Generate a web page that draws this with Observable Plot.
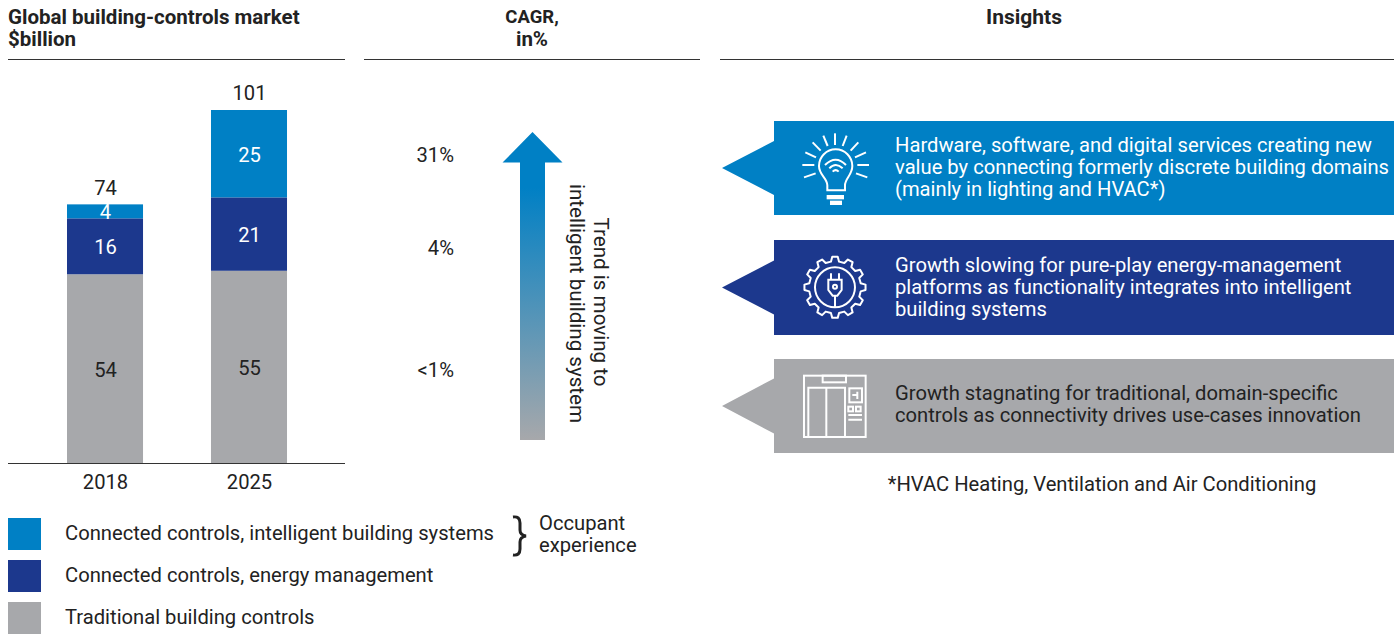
<!DOCTYPE html>
<html>
<head>
<meta charset="utf-8">
<style>
html,body{margin:0;padding:0;background:#fff}
svg{display:block}
</style>
<script src="https://cdn.jsdelivr.net/npm/d3@7"></script>
<script src="https://cdn.jsdelivr.net/npm/@observablehq/plot@0.6"></script>
</head>
<body>
<div id="chart"></div>
<script>
// ---- data ----
const years = ["2018", "2025"];
const series = ["Traditional building controls", "Connected controls, energy management", "Connected controls, intelligent building systems"];
const values2018 = [54, 16, 4];
const values2025 = [55, 21, 25];
const seriesColors = ["#a7a8ab", "#1c388d", "#0080c5"];
const labelColors = ["#222222", "#ffffff", "#ffffff"];
const cagrLabels = ["31%", "4%", "<1%"];
const legendOrder = [2, 1, 0];
const bracketNote = ["Occupant", "experience"];
const headings = [["Global building-controls market", "$billion"], ["CAGR,", "in%"], ["Insights"]];
const trendNote = ["Trend is moving to", "intelligent building system"];
const insights = [
  ["Hardware, software, and digital services creating new", "value by connecting formerly discrete building domains", "(mainly in lighting and HVAC*)"],
  ["Growth slowing for pure-play energy-management", "platforms as functionality integrates into intelligent", "building systems"],
  ["Growth stagnating for traditional, domain-specific", "controls as connectivity drives use-cases innovation"]
];
const footnote = "*HVAC Heating, Ventilation and Air Conditioning";

// ---- derived tables ----
const columns = [values2018, values2025];
const rows = years.flatMap((year, yi) => {
  let base = 0;
  return series.map((name, si) => {
    const value = columns[yi][si];
    const row = {year, series: name, si, value, mid: base + value / 2};
    base += value;
    return row;
  });
});
const totals = years.map((year, yi) => ({year, total: d3.sum(columns[yi])}));
const midOf = (yi, si) => rows.find(r => r.year === years[yi] && r.si === si).mid;
const cagrRows = [
  {label: cagrLabels[0], mid: midOf(1, 2)},
  {label: cagrLabels[1], mid: midOf(0, 1)},
  {label: cagrLabels[2], mid: midOf(0, 0)}
];

// ---- style ----
const FONT = "Roboto, sans-serif";
const SIZE = 20.2;
const INK = "#222222";
const LINE = "#333333";

function label(g, x, y, str, o = {}) {
  return g.append("text").attr("x", x).attr("y", y)
    .attr("text-anchor", o.anchor || "start")
    .attr("dominant-baseline", "central")
    .attr("fill", o.fill || INK)
    .attr("font-weight", o.weight || 400)
    .attr("font-size", o.size || SIZE)
    .attr("font-family", FONT)
    .text(str);
}

function bulbIcon(g) {
  const s = g.append("g").attr("transform", "translate(720,110) scale(0.3333)")
    .attr("fill", "none").attr("stroke", "#fff").attr("stroke-width", 6);
  const rays = [[345,70,345,105],[310,77,323,108],[380,77,368,108],[278,97,302,122],[415,97,392,122],
    [256,127,288,142],[438,127,405,142],[247,165,283,165],[447,165,412,165],[252,202,287,190],[442,202,408,190]];
  rays.forEach(r => s.append("line").attr("x1", r[0]).attr("y1", r[1]).attr("x2", r[2]).attr("y2", r[3]));
  s.append("path").attr("d", "M322 241 L322 226 C322 205 297 195 297 168 A50 50 0 1 1 397 168 C397 195 375 205 375 226 L375 241 Z");
  s.append("path").attr("d", "M315 165 Q347 133 378 165");
  s.append("path").attr("d", "M328 175 Q347 155 368 175");
  s.append("path").attr("d", "M338 185 Q347 176 356 185");
  s.append("rect").attr("x", 320).attr("y", 255).attr("width", 52).attr("height", 13).attr("fill", "#fff").attr("stroke", "none");
  s.append("rect").attr("x", 330).attr("y", 272).attr("width", 36).attr("height", 13).attr("fill", "#fff").attr("stroke", "none");
}

function gearIcon(g) {
  const s = g.append("g").attr("transform", "translate(720,235) scale(0.3333)")
    .attr("fill", "none").attr("stroke", "#fff").attr("stroke-width", 6);
  const cx = 345, cy = 157, teeth = 12, rOut = 92, rIn = 78;
  const pts = [];
  for (let i = 0; i < teeth; i++) {
    const a = (i / teeth) * 2 * Math.PI - Math.PI / 2;
    const w = (2 * Math.PI / teeth);
    [[-0.3, rIn], [-0.17, rOut], [0.17, rOut], [0.3, rIn]].forEach(([f, r]) =>
      pts.push([cx + r * Math.cos(a + f * w), cy + r * Math.sin(a + f * w)]));
  }
  s.append("path").attr("stroke-linejoin", "round")
    .attr("d", d3.line().curve(d3.curveLinearClosed)(pts));
  s.append("circle").attr("cx", cx).attr("cy", cy).attr("r", 60);
  s.append("path").attr("d", "M333 115 L333 134 M357 115 L357 134");
  s.append("path").attr("d", "M325 134 L365 134 L365 165 L352 182 L338 182 L325 165 Z");
  s.append("circle").attr("cx", 345).attr("cy", 155).attr("r", 6);
  s.append("path").attr("d", "M345 182 L345 216");
}

function liftIcon(g) {
  const s = g.append("g").attr("transform", "translate(720,355) scale(0.3333)")
    .attr("fill", "none").attr("stroke", "#fff").attr("stroke-width", 6);
  s.append("rect").attr("x", 252).attr("y", 62).attr("width", 185).attr("height", 184);
  s.append("rect").attr("x", 308).attr("y", 62).attr("width", 70).attr("height", 20);
  s.append("path").attr("d", "M265 246 L265 98 L375 98 L375 246 M319 98 L319 246");
  s.append("rect").attr("x", 388).attr("y", 100).attr("width", 38).attr("height", 42);
  s.append("path").attr("d", "M397 120 L412 120 M412 110 L412 132");
  s.append("rect").attr("x", 385).attr("y", 155).attr("width", 14).attr("height", 14);
  s.append("rect").attr("x", 408).attr("y", 155).attr("width", 14).attr("height", 14);
  s.append("path").attr("d", "M385 180 L426 180 M385 194 L426 194");
}

// ---- panels, legend, notes ----
function decorations() {
  const g = d3.create("svg:g");
  // header rules and baseline
  [[8, 345], [364, 700], [720, 1394]].forEach(([a, b]) =>
    g.append("line").attr("x1", a).attr("x2", b).attr("y1", 59.5).attr("y2", 59.5).attr("stroke", LINE).attr("stroke-width", 1.2));
  g.append("line").attr("x1", 8).attr("x2", 345).attr("y1", 463.5).attr("y2", 463.5).attr("stroke", LINE).attr("stroke-width", 1.2);
  // headings
  label(g, 8, 17, headings[0][0], {weight: 700, size: 20.5});
  label(g, 8, 39, headings[0][1], {weight: 700, size: 20.5});
  label(g, 532, 17, headings[1][0], {weight: 700, size: 18.5, anchor: "middle"});
  label(g, 532, 39, headings[1][1], {weight: 700, size: 20.5, anchor: "middle"});
  label(g, 1024, 17, headings[2][0], {weight: 700, size: 21, anchor: "middle"});
  // trend arrow
  const defs = g.append("defs");
  const grad = defs.append("linearGradient").attr("id", "trend").attr("gradientUnits", "userSpaceOnUse")
    .attr("x1", 0).attr("x2", 0).attr("y1", 440).attr("y2", 132);
  grad.append("stop").attr("offset", "0%").attr("stop-color", seriesColors[0]);
  grad.append("stop").attr("offset", "82%").attr("stop-color", seriesColors[2]);
  g.append("path").attr("fill", "url(#trend)")
    .attr("d", "M532.5 132 L562.5 162.5 L545 162.5 L545 440 L520 440 L520 162.5 L502.5 162.5 Z");
  [[601, 302, trendNote[0]], [577, 303.5, trendNote[1]]].forEach(([x, y, t]) =>
    g.append("text").attr("transform", `translate(${x},${y}) rotate(90)`)
      .attr("text-anchor", "middle").attr("dominant-baseline", "central")
      .attr("fill", INK).attr("font-size", 20.6).attr("font-family", FONT).text(t));
  // insight boxes (top to bottom: intelligent, energy, traditional)
  const boxes = [
    {top: 121, bottom: 215, tip: 168, half: 27, c: seriesColors[2], fg: "#fff", icon: bulbIcon, lines: insights[0], y0: 144.5},
    {top: 240, bottom: 335, tip: 287.5, half: 27, c: seriesColors[1], fg: "#fff", icon: gearIcon, lines: insights[1], y0: 264.5},
    {top: 359, bottom: 453, tip: 406, half: 27.5, c: seriesColors[0], fg: INK, icon: liftIcon, lines: insights[2], y0: 393}
  ];
  boxes.forEach(b => {
    g.append("path").attr("fill", b.c).attr("d",
      `M722 ${b.tip} L774 ${b.tip - b.half} L774 ${b.top} L1394 ${b.top} L1394 ${b.bottom} L774 ${b.bottom} L774 ${b.tip + b.half} Z`);
    b.icon(g);
    b.lines.forEach((t, i) => label(g, 895, b.y0 + i * 22.3, t, {fill: b.fg}));
  });
  label(g, 1102, 484, footnote, {anchor: "middle"});
  // legend
  legendOrder.forEach((si, i) => {
    const y = 518 + i * 42;
    g.append("rect").attr("x", 8).attr("y", y).attr("width", 33).attr("height", 32).attr("fill", seriesColors[si]);
    label(g, 65, y + 15, series[si]);
  });
  g.append("path").attr("fill", "none").attr("stroke", INK).attr("stroke-width", 3)
    .attr("d", "M513 517 Q520 516 520 523 L520 530 Q520 535 526 536 Q520 537 520 542 L520 549 Q520 556 513 555");
  label(g, 539, 523, bracketNote[0]);
  label(g, 539, 545, bracketNote[1]);
  return g.node();
}

const chart = Plot.plot({
  width: 1400,
  height: 634,
  margin: 0,
  style: {fontFamily: FONT, fontSize: SIZE + "px", color: INK, background: "#fff"},
  x: {type: "band", domain: [...years, "CAGR"], range: [67, 431], paddingInner: 0.472, paddingOuter: 0, round: false, axis: null},
  y: {domain: [0, 101], range: [463, 110], axis: null},
  color: {domain: series, range: seriesColors},
  marks: [
    decorations,
    Plot.barY(rows, {x: "year", y: "value", fill: "series"}),
    series.map((name, si) =>
      Plot.text(rows.filter(r => r.si === si), {x: "year", y: "mid", text: d => String(d.value), dy: 1, fill: labelColors[si], fontSize: SIZE})),
    Plot.text(totals, {x: "year", y: "total", text: d => String(d.total), dy: -16.5, fill: INK, fontSize: SIZE}),
    Plot.text(cagrRows, {x: () => "CAGR", y: "mid", text: "label", dx: 60.5, dy: 1.5, textAnchor: "end", fill: INK, fontSize: SIZE}),
    Plot.text(years, {x: d => d, y: () => 0, text: d => d, dy: 19, fill: INK, fontSize: SIZE})
  ]
});
document.getElementById("chart").append(chart);
</script>
</body>
</html>
